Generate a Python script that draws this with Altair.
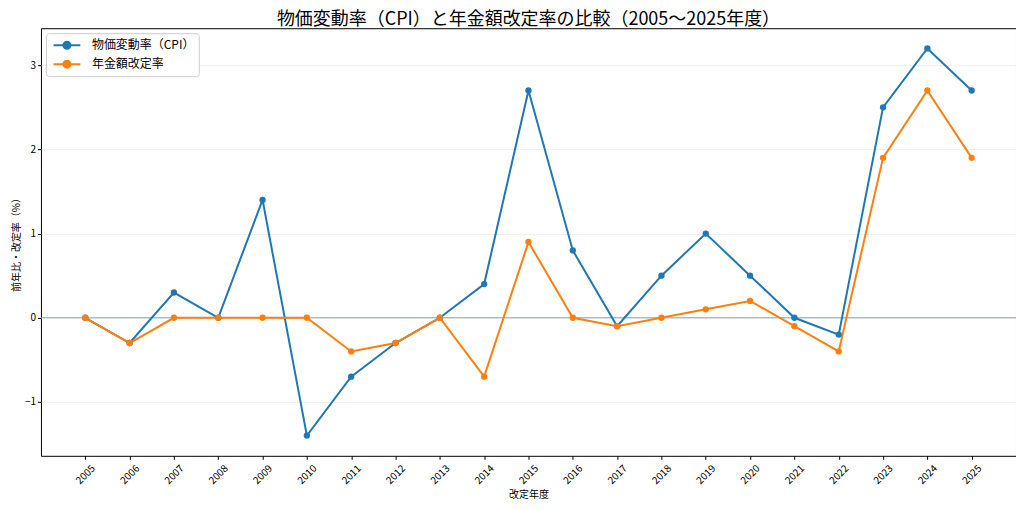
import altair as alt
import pandas as pd

years = list(range(2005, 2026))
cpi = [0, -0.3, 0.3, 0, 1.4, -1.4, -0.7, -0.3, 0, 0.4, 2.7, 0.8, -0.1, 0.5, 1.0, 0.5, 0, -0.2, 2.5, 3.2, 2.7]
pension = [0, -0.3, 0, 0, 0, 0, -0.4, -0.3, 0, -0.7, 0.9, 0, -0.1, 0, 0.1, 0.2, -0.1, -0.4, 1.9, 2.7, 1.9]
series_names = ["物価変動率（CPI）", "年金額改定率"]
colors = ["#1f77b4", "#ff7f0e"]
y_ticks = [-1, 0, 1, 2, 3]

df = pd.DataFrame({
    "year": years + years,
    "value": cpi + pension,
    "series": [series_names[0]] * len(years) + [series_names[1]] * len(years),
})
zero_df = pd.DataFrame({"v": [0]})

FONT = "Noto Sans CJK JP"

x_enc = alt.X(
    "year:Q",
    scale=alt.Scale(domain=[2004, 2026], nice=False, zero=False),
    axis=alt.Axis(
        values=years, format="d", labelAngle=-45, labelAlign="center",
        labelBaseline="middle", labelPadding=15, grid=False, title="改定年度",
        titlePadding=4,
    ),
)
y_enc = alt.Y(
    "value:Q",
    scale=alt.Scale(domain=[-1.64, 3.44], nice=False, zero=False),
    axis=alt.Axis(values=y_ticks, format="d", grid=True, gridColor="#ebebeb", gridWidth=0.8,
                  title="前年比・改定率（%）", titlePadding=3),
)
legend_path = "M-2,0L2,0M-0.52,0A0.52,0.52,0,1,0,0.52,0A0.52,0.52,0,1,0,-0.52,0Z"
color_enc = alt.Color(
    "series:N",
    scale=alt.Scale(domain=series_names, range=colors),
    legend=alt.Legend(
        title=None, orient="top-left", offset=5, padding=4,
        strokeColor="#cccccc", fillColor="white", cornerRadius=3,
        symbolType=legend_path, symbolSize=180, symbolStrokeWidth=2,
        symbolOffset=9, labelOffset=17,
        labelFontSize=12, labelFont=FONT, labelColor="black", rowPadding=3,
    ),
)

zero_rule = alt.Chart(zero_df).mark_rule(color="#5a9bd0", opacity=0.85, strokeWidth=1).encode(
    y=alt.Y("v:Q", scale=alt.Scale(domain=[-1.64, 3.44], nice=False, zero=False))
)
base = alt.Chart(df).encode(x=x_enc, y=y_enc, color=color_enc)
lines = base.mark_line(strokeWidth=2)
points = base.mark_point(filled=True, size=40, opacity=1)

chart = alt.layer(zero_rule, lines, points).properties(
    width=976, height=428,
    autosize=alt.AutoSizeParams(type="none"),
    padding={"left": 33, "top": 20, "right": 0, "bottom": 45},
    title=alt.TitleParams(
        "物価変動率（CPI）と年金額改定率の比較（2005〜2025年度）",
        font=FONT, fontSize=18, fontWeight="normal", color="black",
        anchor="middle", offset=-1,
    ),
).configure_view(stroke="black", strokeWidth=1).configure_axis(
    labelFont=FONT, titleFont=FONT, labelFontSize=10, titleFontSize=10,
    labelColor="black", titleColor="black", titleFontWeight="normal",
    tickColor="black", tickSize=3.5, domain=False,
)

chart.save("out.html", embed_options={"renderer": "svg", "actions": False})
